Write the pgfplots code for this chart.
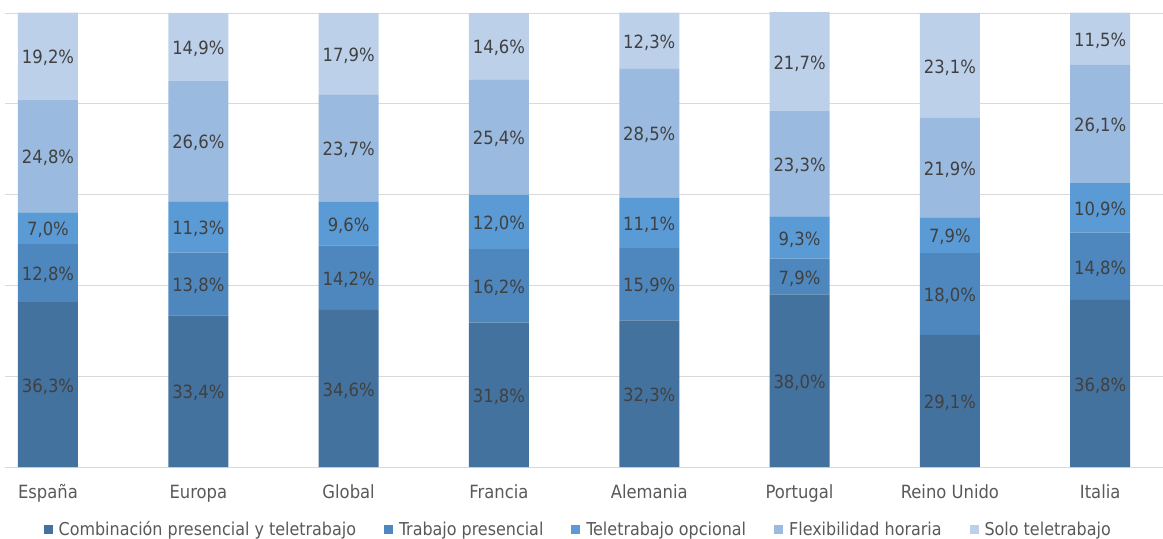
\documentclass[border=0pt]{standalone}
\usepackage{pgfplots}
\pgfplotsset{compat=1.18}
\usepackage{pgfplotstable}
\usepackage{fontspec}
\setmainfont{DejaVu Sans Condensed}
\definecolor{cA}{HTML}{44729E}
\definecolor{cB}{HTML}{4E87BD}
\definecolor{cC}{HTML}{5B9BD5}
\definecolor{cD}{HTML}{9BBAE0}
\definecolor{cE}{HTML}{BCD0EA}
\definecolor{gridc}{HTML}{D9D9D9}
\definecolor{lbl}{HTML}{404040}
\definecolor{axl}{HTML}{595959}
\pgfplotstableread{
x a b c d e
0 36.3 12.8 7.0 24.8 19.2
1 33.4 13.8 11.3 26.6 14.9
2 34.6 14.2 9.6 23.7 17.9
3 31.8 16.2 12.0 25.4 14.6
4 32.3 15.9 11.1 28.5 12.3
5 38.0 7.9 9.3 23.3 21.7
6 29.1 18.0 7.9 21.9 23.1
7 36.8 14.8 10.9 26.1 11.5
}\data
% label positions: middle of each segment (m) and value (v)
\pgfplotstableread{
x m v
0 18.15 36.3
0 42.7 12.8
0 52.6 7.0
0 68.5 24.8
0 90.5 19.2
1 16.7 33.4
1 40.3 13.8
1 52.85 11.3
1 71.8 26.6
1 92.55 14.9
2 17.3 34.6
2 41.7 14.2
2 53.6 9.6
2 70.25 23.7
2 91.05 17.9
3 15.9 31.8
3 39.9 16.2
3 54.0 12.0
3 72.7 25.4
3 92.7 14.6
4 16.15 32.3
4 40.25 15.9
4 53.75 11.1
4 73.55 28.5
4 93.95 12.3
5 19.0 38.0
5 41.95 7.9
5 50.55 9.3
5 66.85 23.3
5 89.35 21.7
6 14.55 29.1
6 38.1 18.0
6 51.05 7.9
6 65.95 21.9
6 88.45 23.1
7 18.4 36.8
7 44.2 14.8
7 57.05 10.9
7 75.55 26.1
7 94.35 11.5
}\labels
\begin{document}
\begin{tikzpicture}
\begin{axis}[
  ybar stacked, bar width=60bp,
  scale only axis, width=1158bp, height=454bp,
  xmin=-0.286, xmax=7.418, ymin=0, ymax=100,
  axis line style={draw=none},
  ytick={0,20,40,60,80,100}, yticklabels={}, ymajorgrids,
  grid style={gridc, line width=0.8bp},
  ytick style={draw=none}, xtick style={draw=none},
  xtick={0,...,7},
  xticklabels={España,Europa,Global,Francia,Alemania,Portugal,Reino Unido,Italia},
  xticklabel style={font=\fontsize{18.3}{22}\selectfont, text=axl, anchor=base, yshift=-31bp},
  legend style={at={(0.495,-0.1366)}, anchor=center, draw=none, legend columns=-1,
    font=\fontsize{17.8}{21}\selectfont, text=axl,
    /tikz/every odd column/.append style={column sep=4bp},
    /tikz/every even column/.append style={column sep=26bp}},
  legend image code/.code={\fill[#1] (0bp,-4.5bp) rectangle (9bp,4.5bp);},
]
\addplot[fill=cA, draw=none] table[x=x, y=a] {\data};
\addplot[fill=cB, draw=none] table[x=x, y=b] {\data};
\addplot[fill=cC, draw=none] table[x=x, y=c] {\data};
\addplot[fill=cD, draw=none] table[x=x, y=d] {\data};
\addplot[fill=cE, draw=none] table[x=x, y=e] {\data};
\legend{Combinación presencial y teletrabajo, Trabajo presencial, Teletrabajo opcional, Flexibilidad horaria, Solo teletrabajo}
\end{axis}
\begin{axis}[
  scale only axis, width=1158bp, height=454bp,
  xmin=-0.286, xmax=7.418, ymin=0, ymax=100,
  hide axis, clip=false,
]
\addplot[draw=none, mark=none,
  nodes near coords={\pgfmathprintnumber[fixed,fixed zerofill,precision=1,use comma,assume math mode=true]{\pgfplotspointmeta}\%},
  point meta=explicit,
  every node near coord/.style={anchor=center, inner sep=0pt, yshift=-2bp, font=\fontsize{18.3}{22}\selectfont, text=lbl},
] table[x=x, y=m, meta=v] {\labels};
\end{axis}
\pgfresetboundingbox
\path[use as bounding box] (-5bp,-72bp) rectangle (1158bp,467bp);
\end{tikzpicture}
\end{document}
